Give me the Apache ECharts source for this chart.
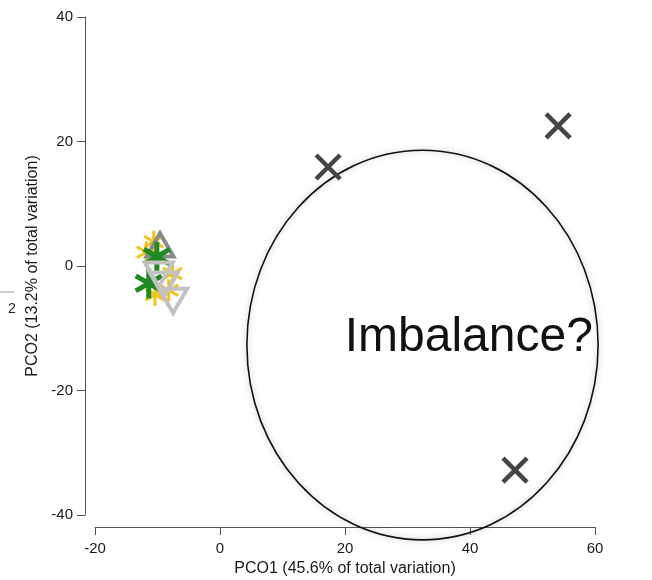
<!DOCTYPE html>
<html>
<head>
<meta charset="utf-8">
<script src="https://cdn.jsdelivr.net/npm/echarts@6/dist/echarts.min.js"></script>
<style>html,body{margin:0;padding:0;background:#fff;}#c{width:652px;height:580px;}</style>
</head>
<body>
<div id="c"></div>
<script>
// ---- data ----
const xTicks = [-20, 0, 20, 40, 60];
const yTicks = [-40, -20, 0, 20, 40];
const xTitle = 'PCO1 (45.6% of total variation)';
const yTitle = 'PCO2 (13.2% of total variation)';
const yellowPts = [[-11.8, 2.2], [-10.6, 3.9], [-7.6, -1.2], [-8.2, -3.9], [-10.4, -4.6]];
const grayUpPts = [[-9.6, 3.4]];
const greenPts = [[-10.1, 1.5], [-11.4, -2.8]];
const lightDownPts = [[-9.8, -1.4], [-9.0, -3.0], [-7.5, -5.6]];
const crossPts = [[17.3, 15.9], [54.1, 22.5], [47.2, -32.8]];
const ellipseCenter = [32.4, -12.7];
const ellipseRadius = [28.1, 31.3];
const noteText = 'Imbalance?';
const notePos = [39.8, -11.6];

const chart = echarts.init(document.getElementById('c'), null, {renderer: 'canvas'});
const FONT = 'Liberation Sans, Arial, sans-serif';
const SYM = {
  cross: 'path://M0,0L10,10M10,0L0,10',
  star: 'path://M5,0L5,10M0.67,2.5L9.33,7.5M0.67,7.5L9.33,2.5',
  up: 'path://M5,0L10,8.66L0,8.66Z',
  down: 'path://M0,0L10,0L5,8.66Z'
};
function sc(name, data, sym, size, col, bw, z) {
  return {
    name, type: 'scatter', data, symbol: sym, symbolSize: size, z,
    symbolKeepAspect: true,
    itemStyle: {color: 'none', borderColor: col, borderWidth: bw, opacity: 1},
    emphasis: {disabled: true}, silent: true, animation: false
  };
}
const axisCommon = {
  axisLine: {show: true, onZero: false, lineStyle: {color: '#555', width: 1}},
  axisTick: {show: true, length: 8, lineStyle: {color: '#555', width: 1}},
  splitLine: {show: false},
  axisLabel: {color: '#1a1a1a', fontSize: 15, fontFamily: FONT, margin: 12},
  nameTextStyle: {color: '#1a1a1a', fontSize: 16, fontFamily: FONT}
};
chart.setOption({
  animation: false,
  backgroundColor: '#fff',
  grid: {left: 95, right: 57, top: 17, bottom: 65, containLabel: false, outerBoundsMode: 'none'},
  xAxis: Object.assign({}, axisCommon, {
    type: 'value', min: xTicks[0], max: xTicks[xTicks.length - 1], interval: 20,
    offset: 12, name: xTitle, nameLocation: 'middle', nameGap: 34,
    axisLabel: Object.assign({}, axisCommon.axisLabel, {margin: 14})
  }),
  yAxis: Object.assign({}, axisCommon, {
    type: 'value', min: yTicks[0], max: yTicks[yTicks.length - 1], interval: 20,
    offset: 10, name: yTitle, nameLocation: 'middle', nameGap: 44, nameRotate: 90
  }),
  graphic: [
    {type: 'line', shape: {x1: 0, y1: 292, x2: 14, y2: 292}, style: {stroke: '#999', lineWidth: 1}},
    {type: 'text', x: 8, y: 302, style: {text: '2', fontSize: 14, fontFamily: FONT, fill: '#222'}}
  ],
  series: [
    {
      type: 'custom', z: 1, silent: true,
      data: [ellipseCenter.concat(ellipseRadius)],
      renderItem: function (params, api) {
        const c = api.coord([api.value(0), api.value(1)]);
        const s = api.size([api.value(2), api.value(3)]);
        return {
          type: 'ellipse',
          shape: {cx: c[0], cy: c[1], rx: s[0], ry: s[1]},
          style: {fill: 'none', stroke: '#111', lineWidth: 1.6,
            shadowBlur: 6, shadowColor: 'rgba(0,0,0,0.3)'}
        };
      }
    },
    {
      type: 'custom', z: 2, silent: true,
      data: [notePos],
      renderItem: function (params, api) {
        const c = api.coord([api.value(0), api.value(1)]);
        return {
          type: 'text', x: c[0], y: c[1],
          style: {text: noteText, fontSize: 48, fontFamily: FONT, fill: '#111',
            align: 'center', verticalAlign: 'middle'}
        };
      }
    },
    sc('yellow', yellowPts, SYM.star, 22, '#f2c21b', 3, 3),
    sc('grayUp', grayUpPts, SYM.up, 27, '#8a8a8a', 4, 4),
    sc('green', greenPts, SYM.star, 30, '#1f8a1f', 5, 5),
    sc('lightDown', lightDownPts, SYM.down, 28, '#c2c2c2', 4, 6),
    sc('cross', crossPts, SYM.cross, 24, '#444', 4.5, 7)
  ]
});
</script>
</body>
</html>
